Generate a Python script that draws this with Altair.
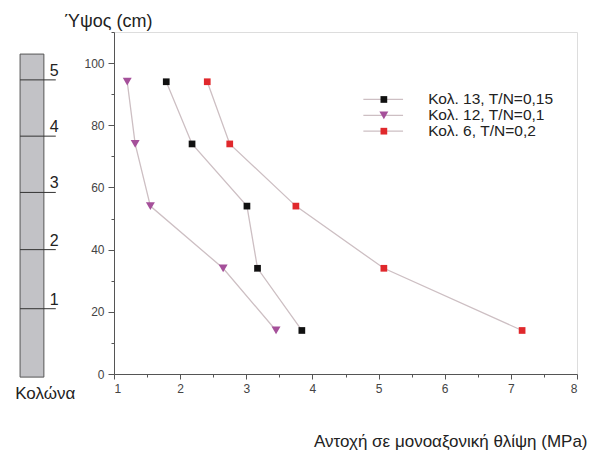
import altair as alt
import pandas as pd

# ---- data ----
heights = [94, 74, 54, 34, 14]                      # Ύψος (cm)
col13 = [1.79, 2.18, 3.01, 3.17, 3.84]              # Κολ. 13
col12 = [1.20, 1.32, 1.55, 2.65, 3.45]              # Κολ. 12
col6 = [2.41, 2.75, 3.75, 5.08, 7.17]               # Κολ. 6
series_names = ["Κολ. 13, T/N=0,15", "Κολ. 12, T/N=0,1", "Κολ. 6, T/N=0,2"]
series_values = [col13, col12, col6]
marker_shapes = ["square", "triangle-down", "square"]
marker_colors = ["#111111", "#a5509a", "#e0282c"]
marker_sizes = [45, 80, 45]

x_ticks = [1, 2, 3, 4, 5, 6, 7, 8]
x_minor = [1.5, 2.5, 3.5, 4.5, 5.5, 6.5, 7.5]
y_ticks = [0, 20, 40, 60, 80, 100]
y_minor = [10, 30, 50, 70, 90, 110]

# legend rows (placed in data units of the chart)
legend_y = [88.3, 83.2, 78.1]
legend_x0, legend_x1, legend_xm, legend_xt = 4.77, 5.37, 5.08, 5.75

# column schematic (left), in data units of the chart
column_levels = ["1", "2", "3", "4", "5"]
column_level_y = [21.0, 40.0, 58.4, 76.5, 94.6]
column_x0, column_x1, column_line_end, column_label_x = -0.42, -0.06, 0.12, 0.03
column_bottom, column_top = -1.0, 102.9
column_caption = "Κολώνα"
column_caption_pos = (-0.04, -6.5)

# ---- tables ----
rows = []
for name, vals, sz in zip(series_names, series_values, marker_sizes):
    for h, v in zip(heights, vals):
        rows.append({"series": name, "x": v, "h": h, "msize": sz})
df = pd.DataFrame(rows)

leg = pd.DataFrame({
    "series": series_names,
    "ly": legend_y,
    "msize": marker_sizes,
    "x0": [legend_x0] * 3,
    "x1": [legend_x1] * 3,
    "xm": [legend_xm] * 3,
    "xt": [legend_xt] * 3,
})

col_df = pd.DataFrame({"x0": [column_x0], "x1": [column_x1],
                       "y0": [column_bottom], "y1": [column_top]})
lev_df = pd.DataFrame({"lab": column_levels, "ly": column_level_y,
                       "x0": [column_x0] * 5, "x1": [column_line_end] * 5,
                       "xt": [column_label_x] * 5})
cap_df = pd.DataFrame({"t": [column_caption], "x": [column_caption_pos[0]],
                       "y": [column_caption_pos[1]]})

FONT = "Liberation Sans"
xs = alt.Scale(domain=[1, 8], nice=False, zero=False)
ys = alt.Scale(domain=[0, 110], nice=False, zero=False)
AX = "#555555"
LINE = "#cdbfc3"

color_scale = alt.Scale(domain=series_names, range=marker_colors)
shape_scale = alt.Scale(domain=series_names, range=marker_shapes)

def X(field):
    return alt.X(field, scale=xs, axis=None)

def Y(field):
    return alt.Y(field, scale=ys, axis=None)

# axes
major_axes = alt.Chart(df).mark_point(opacity=0).encode(
    x=alt.X("x:Q", scale=xs, axis=alt.Axis(
        orient="bottom", values=x_ticks, format="d", grid=False,
        domainColor=AX, tickColor=AX, tickSize=5, labelColor="#444444",
        labelFontSize=12, labelPadding=4, labelFont=FONT,
        title="Αντοχή σε μονοαξονική θλίψη (MPa)", titleFont=FONT,
        titleFontSize=17, titleFontWeight="normal", titleColor="#222222",
        titleX=473, titleY=67, titleAlign="right", titleBaseline="middle")),
    y=alt.Y("h:Q", scale=ys, axis=alt.Axis(
        orient="left", values=y_ticks, format="d", grid=False,
        domainColor=AX, tickColor=AX, tickSize=6, labelColor="#444444",
        labelFontSize=12, labelPadding=4, labelFont=FONT,
        title="Ύψος (cm)", titleFont=FONT, titleFontSize=18,
        titleFontWeight="normal", titleColor="#222222", titleAngle=0,
        titleX=-6, titleY=-11, titleAlign="center", titleBaseline="middle")),
)
minor_axes = alt.Chart(df).mark_point(opacity=0).encode(
    x=alt.X("x:Q", scale=xs, axis=alt.Axis(
        orient="bottom", values=x_minor, labels=False, domain=False,
        grid=False, tickColor=AX, tickSize=3, title=None)),
    y=alt.Y("h:Q", scale=ys, axis=alt.Axis(
        orient="left", values=y_minor, labels=False, domain=False,
        grid=False, tickColor=AX, tickSize=3, title=None)),
)

lines = alt.Chart(df).mark_line(color=LINE, strokeWidth=1.3).encode(
    x=X("x:Q"), y=Y("h:Q"), detail="series:N", order="h:Q")

points = alt.Chart(df).mark_point(filled=True, opacity=1).encode(
    x=X("x:Q"), y=Y("h:Q"),
    color=alt.Color("series:N", scale=color_scale, legend=None),
    shape=alt.Shape("series:N", scale=shape_scale, legend=None),
    size=alt.Size("msize:Q", scale=None, legend=None))

leg_lines = alt.Chart(leg).mark_rule(color=LINE, strokeWidth=1.3).encode(
    x=X("x0:Q"), x2="x1:Q", y=Y("ly:Q"))
leg_points = alt.Chart(leg).mark_point(filled=True, opacity=1).encode(
    x=X("xm:Q"), y=Y("ly:Q"),
    color=alt.Color("series:N", scale=color_scale, legend=None),
    shape=alt.Shape("series:N", scale=shape_scale, legend=None),
    size=alt.Size("msize:Q", scale=None, legend=None))
leg_text = alt.Chart(leg).mark_text(
    align="left", baseline="middle", font=FONT, fontSize=15.5, color="#222222"
).encode(x=X("xt:Q"), y=Y("ly:Q"), text="series:N")

col_rect = alt.Chart(col_df).mark_rect(
    fill="#c2c2c6", stroke="#555555", strokeWidth=1).encode(
    x=X("x0:Q"), x2="x1:Q", y=Y("y0:Q"), y2="y1:Q")
col_lines = alt.Chart(lev_df).mark_rule(color="#333333", strokeWidth=1).encode(
    x=X("x0:Q"), x2="x1:Q", y=Y("ly:Q"))
col_labels = alt.Chart(lev_df).mark_text(
    align="left", baseline="bottom", dy=-1, font=FONT, fontSize=16,
    color="#222222").encode(x=X("xt:Q"), y=Y("ly:Q"), text="lab:N")
col_caption = alt.Chart(cap_df).mark_text(
    align="center", baseline="middle", font=FONT, fontSize=17,
    color="#222222").encode(x=X("x:Q"), y=Y("y:Q"), text="t:N")

chart = alt.layer(
    col_rect, col_lines, col_labels, col_caption,
    minor_axes, major_axes, lines, points,
    leg_lines, leg_points, leg_text,
).resolve_axis(x="independent", y="independent").properties(
    width=463, height=342,
    autosize=alt.AutoSizeParams(type="none"),
    padding={"left": 114, "top": 32, "right": 18, "bottom": 78},
).configure_view(stroke=None).configure(background="white")

chart.save("out.html", embed_options={"renderer": "svg", "actions": False})
